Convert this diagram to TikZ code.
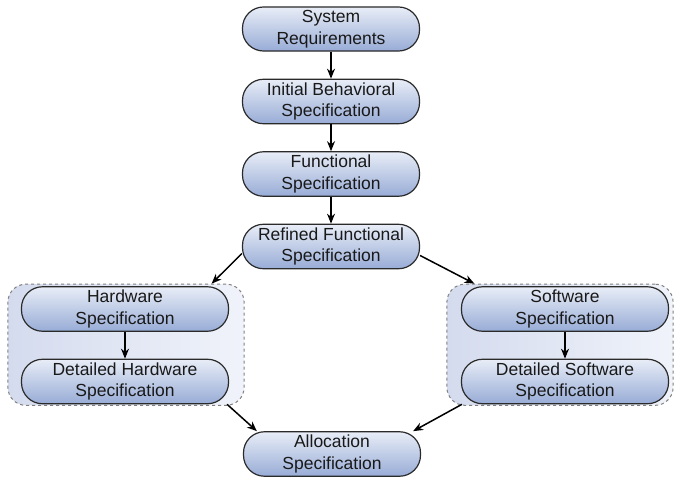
\documentclass[tikz,border=0pt]{standalone}
\usepackage{fontspec}
\setmainfont{Liberation Sans}
\usepackage{xcolor}
\usepackage{tikz}
\usetikzlibrary{shapes.geometric, arrows, arrows.meta, positioning, fit, backgrounds}

\definecolor{specTop}{HTML}{E8EDF7}
\definecolor{specBot}{HTML}{98ACD6}
\definecolor{groupLeft}{HTML}{D4DBEE}
\definecolor{groupRight}{HTML}{F0F3FA}
\definecolor{edgeGray}{HTML}{2A2A2A}

\begin{document}
\begin{tikzpicture}[node distance=72.5pt, auto,
    block/.style={rectangle, draw=edgeGray, line width=1.2pt, top color=specTop, bottom color=specBot,
        align=center, rounded corners=21pt, minimum width=177pt, minimum height=43pt,
        font=\fontsize{17.5}{21.5}\selectfont, text=black!90},
    wideblock/.style={block, minimum width=207pt},
    group/.style={rectangle, draw=gray, dashed, line width=1pt, left color=groupLeft, right color=groupRight,
        rounded corners=18pt},
    arrow/.style={->,>={Stealth[length=10pt,width=8pt]}, line width=1.5pt}]

    \useasboundingbox (0pt,0pt) rectangle (676pt,-478pt);

    \node [block] (sysreq) at (331pt,-29pt) {System\\Requirements};
    \node [block, below of=sysreq] (initbeh) {Initial Behavioral\\Specification};
    \node [block, below of=initbeh] (func) {Functional\\Specification};
    \node [block, below of=func] (refined) {Refined Functional\\Specification};
    \node [wideblock, below of=refined, xshift=-206pt, yshift=10pt] (hw) {Hardware\\Specification};
    \node [wideblock, below of=hw] (dethw) {Detailed Hardware\\Specification};
    \node [wideblock, below of=refined, xshift=234pt, yshift=10pt] (sw) {Software\\Specification};
    \node [wideblock, below of=sw] (detsw) {Detailed Software\\Specification};
    \node [block, below of=dethw, xshift=207pt] (alloc) {Allocation\\Specification};

    \begin{pgfonlayer}{background}
        \node [group, inner sep=0pt, fit={([xshift=-13pt,yshift=2pt]hw.north west) ([xshift=15pt,yshift=-1pt]dethw.south east)}] (hwgroup) {};
        \node [group, inner sep=0pt, fit={([xshift=-14pt,yshift=2pt]sw.north west) ([xshift=4pt,yshift=-1pt]detsw.south east)}] (swgroup) {};
    \end{pgfonlayer}

    \draw [arrow] (sysreq) -- (initbeh);
    \draw [arrow] (initbeh) -- (func);
    \draw [arrow] (func) -- (refined);
    \draw [arrow] ([yshift=-7pt]refined.west) -- ([xshift=-33pt]hwgroup.north east);
    \draw [arrow] ([yshift=-9pt]refined.east) -- ([xshift=28pt]swgroup.north west);
    \draw [arrow] (hw) -- (dethw);
    \draw [arrow] (sw) -- (detsw);
    \draw [arrow] ([xshift=-2pt]dethw.south east) -- ([xshift=14pt]alloc.north west);
    \draw [arrow] ([xshift=1pt]detsw.south west) -- ([xshift=-8pt]alloc.north east);
\end{tikzpicture}
\end{document}
